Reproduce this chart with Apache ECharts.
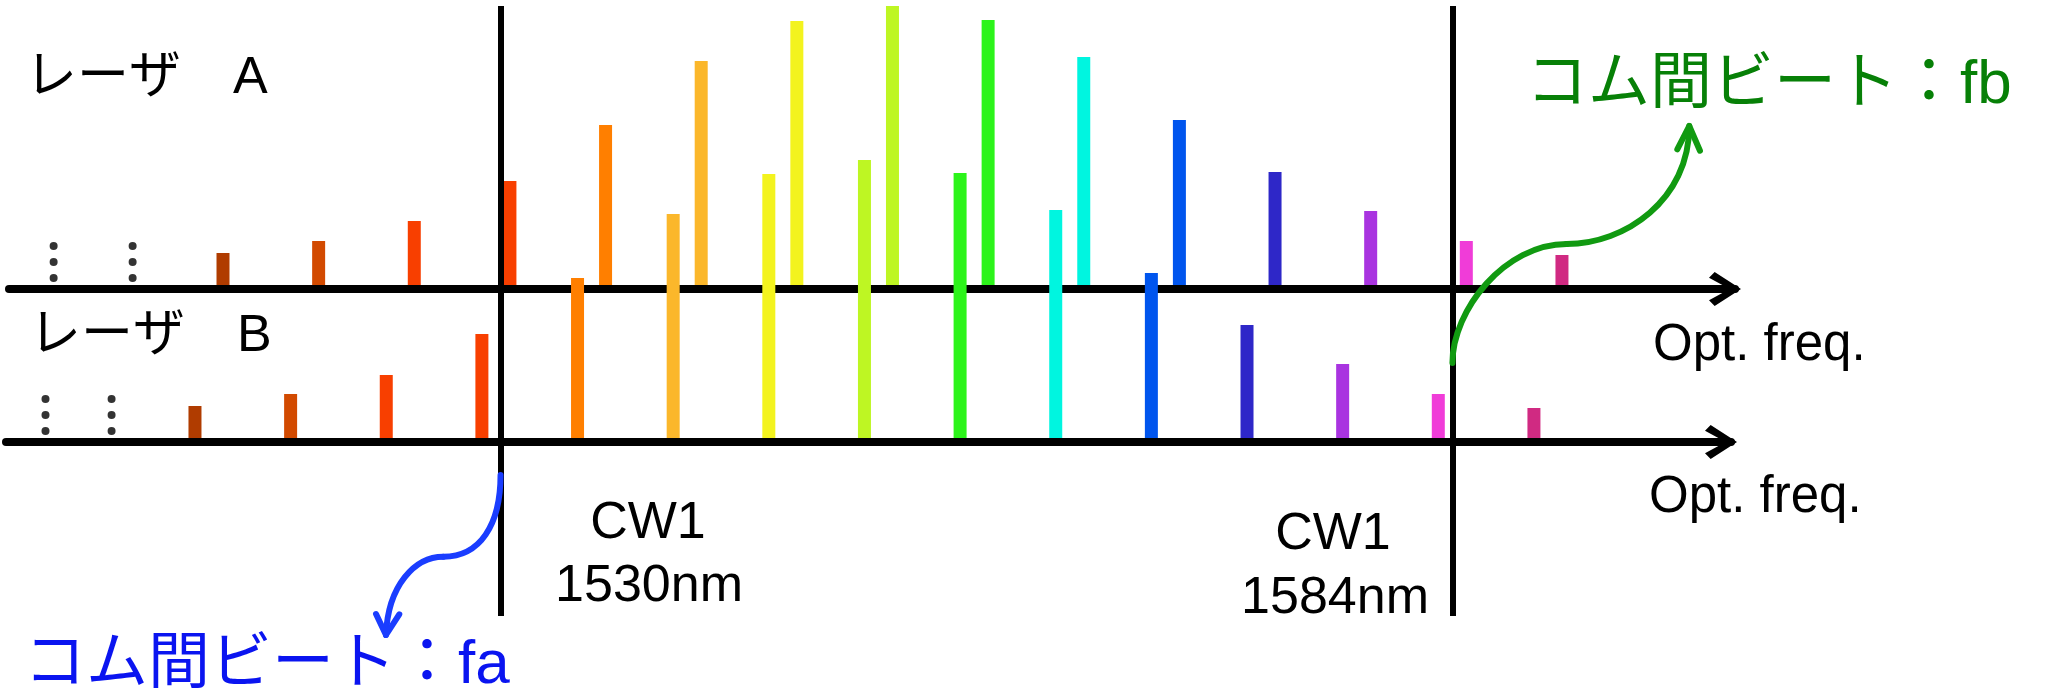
<!DOCTYPE html>
<html>
<head>
<meta charset="utf-8">
<title>コム間ビート</title>
<script src="https://cdn.jsdelivr.net/npm/echarts@6/dist/echarts.min.js"></script>
<style>
  html, body { margin: 0; padding: 0; background: #fff; }
  #chart { width: 2052px; height: 696px; }
</style>
</head>
<body>
<div id="chart"></div>
<script>
// Comb line frequencies, in units of the comb mode spacing
const combAFreq = [1, 2, 3, 4, 5, 6, 7, 8, 9, 10, 11, 12, 13, 14, 15];
const combBFreq = [0.707, 1.707, 2.707, 3.707, 4.707, 5.707, 6.707, 7.707, 8.707, 9.707, 10.707, 11.707, 12.707, 13.707, 14.707];
// Relative optical power of each comb line (arbitrary units)
const combAPower = [32, 44, 64, 104, 160, 224, 264, 279, 265, 228, 165, 113, 74, 44, 30];
const combBPower = [32, 44, 63, 104, 160, 224, 264, 278, 265, 228, 165, 113, 74, 44, 30];
// Continuation dots at the low-frequency end of each comb
const dotsAFreq = [-0.771, 0.055];
const dotsBFreq = [-0.856, -0.165];
const dotLevels = [39, 23, 7];
// CW reference lasers
const cwFreq = [3.902, 13.855];
const cwName = ['CW1', 'CW1'];
const cwWavelength = ['1530nm', '1584nm'];

// Spectral colour of each comb line, short to long frequency
const lineColors = ['#b03c00', '#d24a00', '#f83f00', '#f83f00', '#ff7f00', '#fbb72b', '#f3f31e',
  '#bef623', '#2cf41a', '#00f5e0', '#0055ee', '#2e27c8', '#a934e0', '#f03cd8', '#d02a82'];

// Frequency scale shared by every grid: pixel column of mode 1 and pixels per mode
const MODE1_PX = 223;
const MODE_PITCH_PX = 95.64;
const modeAt = px => 1 + (px - MODE1_PX) / MODE_PITCH_PX;

// Beat-note arrows, in (frequency, level above comb B baseline) units
const beatCurves = [
  { // fb: from CW1 (1584 nm) up to the label
    color: '#119a11',
    segments: [
      [[13.855, 75], [13.855, 128], [14.404, 194], [15.049, 194]],
      [[15.049, 194], [15.659, 194], [16.331, 238], [16.331, 312]]
    ],
    head: [[16.206, 288.7], [16.331, 312], [16.443, 287.3]]
  },
  { // fa: from CW1 (1530 nm) down to the label
    color: '#1a3dff',
    segments: [
      [[3.902, -37], [3.902, -87], [3.687, -118.7], [3.303, -118.7]],
      [[3.303, -118.7], [3.008, -118.7], [2.725, -147], [2.704, -197]]
    ],
    head: [[2.600, -176], [2.704, -197], [2.843, -176.3]]
  }
];
const CW_SPAN = [-178, 432];

const LATIN = '"Liberation Sans", Arial, "Noto Sans CJK JP", sans-serif';
const ARROW = 'path://M6,34 L0,28 L18,0 L36,28 L30,34 L18,12 Z';

function freqAxis(gridIndex, leftPx, rightPx, showLine) {
  return {
    type: 'value', gridIndex: gridIndex,
    min: modeAt(leftPx), max: modeAt(rightPx),
    offset: showLine ? 4 : 0,
    axisLine: {
      show: showLine, onZero: false,
      lineStyle: { color: '#000', width: 8 },
      symbol: ['none', ARROW], symbolSize: [34, 32], symbolOffset: [0, -10]
    },
    axisTick: { show: false }, axisLabel: { show: false }, splitLine: { show: false }
  };
}
function levelAxis(gridIndex, min, max) {
  return { type: 'value', gridIndex: gridIndex, min: min, max: max, show: false };
}

const barData = (freq, power) => freq.map((f, i) => ({ value: [f, power[i]], itemStyle: { color: lineColors[i] } }));
const dotData = freq => freq.flatMap(f => dotLevels.map(l => [f, l]));

function textEl(text, x, y, size, color, align) {
  return {
    type: 'text', x: x, y: y, silent: true,
    style: { text: text, font: size + 'px ' + LATIN, fill: color, align: align || 'left', verticalAlign: 'middle' }
  };
}

const chart = echarts.init(document.getElementById('chart'), null, { renderer: 'canvas' });
chart.setOption({
  animation: false,
  backgroundColor: '#fff',
  grid: [
    { left: 9, width: 1735 - 9, top: 0, height: 285 },     // レーザ A
    { left: 6, width: 1731 - 6, top: 153, height: 285 },   // レーザ B
    { left: 0, right: 0, top: 0, bottom: 0 }               // overlay for CW lines and beat arrows
  ],
  xAxis: [freqAxis(0, 9, 1735, true), freqAxis(1, 6, 1731, true), freqAxis(2, 0, 2052, false)],
  yAxis: [levelAxis(0, 0, 285), levelAxis(1, 0, 285), levelAxis(2, -258, 438)],
  series: [
    { type: 'bar', xAxisIndex: 0, yAxisIndex: 0, barWidth: 13, data: barData(combAFreq, combAPower), silent: true },
    { type: 'bar', xAxisIndex: 1, yAxisIndex: 1, barWidth: 13, data: barData(combBFreq, combBPower), silent: true },
    { type: 'scatter', xAxisIndex: 0, yAxisIndex: 0, symbolSize: 8, itemStyle: { color: '#000' }, data: dotData(dotsAFreq), silent: true },
    { type: 'scatter', xAxisIndex: 1, yAxisIndex: 1, symbolSize: 8, itemStyle: { color: '#000' }, data: dotData(dotsBFreq), silent: true },
    {
      type: 'lines', coordinateSystem: 'cartesian2d', xAxisIndex: 2, yAxisIndex: 2, silent: true, z: 3,
      lineStyle: { color: '#000', width: 6, opacity: 1, curveness: 0 },
      data: cwFreq.map(f => ({ coords: [[f, CW_SPAN[1]], [f, CW_SPAN[0]]] }))
    },
    {
      type: 'custom', xAxisIndex: 2, yAxisIndex: 2, silent: true, z: 4,
      data: beatCurves.map(c => c.segments[0][0]),
      renderItem: function (params, api) {
        const c = beatCurves[params.dataIndex];
        const style = { stroke: c.color, lineWidth: 6, fill: null, lineCap: 'round', lineJoin: 'round' };
        const children = c.segments.map(s => {
          const p = s.map(q => api.coord(q));
          return {
            type: 'bezierCurve',
            shape: { x1: p[0][0], y1: p[0][1], cpx1: p[1][0], cpy1: p[1][1], cpx2: p[2][0], cpy2: p[2][1], x2: p[3][0], y2: p[3][1] },
            style: style
          };
        });
        children.push({ type: 'polyline', shape: { points: c.head.map(q => api.coord(q)) }, style: style });
        return { type: 'group', children: children };
      }
    }
  ],
  graphic: [
    textEl('レーザ　A', 25, 78.5, 52, '#000'),
    textEl('レーザ　B', 29, 337, 52, '#000'),
    textEl('Opt. freq.', 1653, 345.5, 51, '#000'),
    textEl('Opt. freq.', 1649, 498, 51, '#000'),
    textEl(cwName[0], 648, 524, 52, '#000', 'center'),
    textEl(cwWavelength[0], 649, 587, 52, '#000', 'center'),
    textEl(cwName[1], 1333, 535, 52, '#000', 'center'),
    textEl(cwWavelength[1], 1335, 599, 52, '#000', 'center'),
    textEl('コム間ビート：fb', 1526, 85.5, 62, '#078007'),
    textEl('コム間ビート：fa', 24, 665.8, 62, '#0a14f0')
  ]
});
</script>
</body>
</html>
